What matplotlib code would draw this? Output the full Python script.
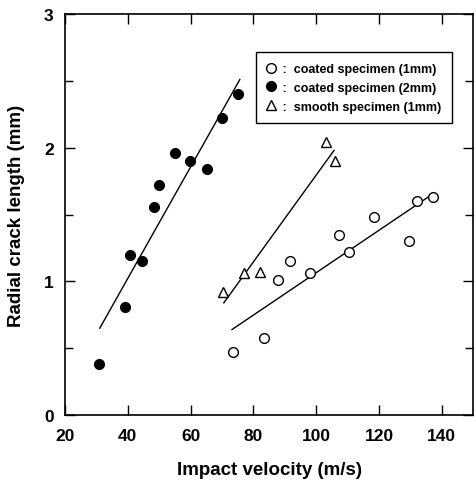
import numpy as np
import matplotlib
matplotlib.use('Agg')
from matplotlib import pyplot as plt
from matplotlib.ticker import MultipleLocator

plt.rcParams['font.family'] = ['Liberation Sans', 'DejaVu Sans']

# coated specimen (1mm) - open circles
v_c1 = [73.5, 83.4, 87.8, 91.6, 98.0, 107.3, 110.4, 118.4, 129.5, 132.1, 137.2]
l_c1 = [0.47, 0.58, 1.01, 1.15, 1.06, 1.35, 1.22, 1.48, 1.30, 1.60, 1.63]
fit_c1_x = [73.2, 135.6]
fit_c1_y = [0.64, 1.63]

# coated specimen (2mm) - filled circles
v_c2 = [30.8, 39.1, 40.7, 44.5, 48.3, 49.9, 55.0, 59.8, 65.2, 70.0, 75.1]
l_c2 = [0.38, 0.81, 1.20, 1.15, 1.56, 1.72, 1.96, 1.90, 1.84, 2.22, 2.40]
fit_c2_x = [31.1, 75.7]
fit_c2_y = [0.65, 2.51]

# smooth specimen (1mm) - triangles
v_s1 = [70.3, 77.0, 82.0, 103.1, 106.0]
l_s1 = [0.92, 1.06, 1.07, 2.04, 1.90]
fit_s1_x = [70.6, 105.7]
fit_s1_y = [0.84, 1.98]

fig = plt.figure(figsize=(4.77, 4.85), dpi=100)
ax = fig.add_axes([0.136, 0.142, 0.856, 0.827])

ax.plot(fit_c2_x, fit_c2_y, color='black', lw=1.0)
ax.plot(fit_c1_x, fit_c1_y, color='black', lw=1.0)
ax.plot(fit_s1_x, fit_s1_y, color='black', lw=1.0)

ax.plot(v_c1, l_c1, 'o', ms=7, mfc='white', mec='black', mew=1.0,
        label=' :  coated specimen (1mm)')
ax.plot(v_c2, l_c2, 'o', ms=7, mfc='black', mec='black',
        label=' :  coated specimen (2mm)')
ax.plot(v_s1, l_s1, '^', ms=6.5, mfc='white', mec='black', mew=1.0,
        label=' :  smooth specimen (1mm)')

ax.set_xlim(20, 150)
ax.set_ylim(0, 3)
ax.set_xticks([20, 40, 60, 80, 100, 120, 140])
ax.yaxis.set_major_locator(MultipleLocator(1))
ax.yaxis.set_minor_locator(MultipleLocator(0.5))
ax.tick_params(which='both', direction='in', top=True, right=True,
               labelsize=12.5, width=1.0)
ax.tick_params(which='major', length=7)
ax.tick_params(which='minor', length=6)
ax.tick_params(axis='x', pad=9)
ax.tick_params(axis='y', pad=8)
for lab in ax.get_xticklabels() + ax.get_yticklabels():
    lab.set_fontweight('bold')
for s in ax.spines.values():
    s.set_linewidth(1.2)

ax.set_xlabel('Impact velocity (m/s)', fontsize=13.5, fontweight='bold', labelpad=13)
ax.set_ylabel('Radial crack length (mm)', fontsize=13.5, fontweight='bold', labelpad=14)

leg = ax.legend(loc='upper right', bbox_to_anchor=(0.963, 0.92),
                prop={'weight': 'bold', 'size': 9}, handlelength=0.8,
                handletextpad=0.2, fancybox=False, framealpha=1,
                edgecolor='black', borderpad=0.85, labelspacing=0.55)
leg.get_frame().set_linewidth(1.0)

fig.savefig('out.png', dpi=100)
